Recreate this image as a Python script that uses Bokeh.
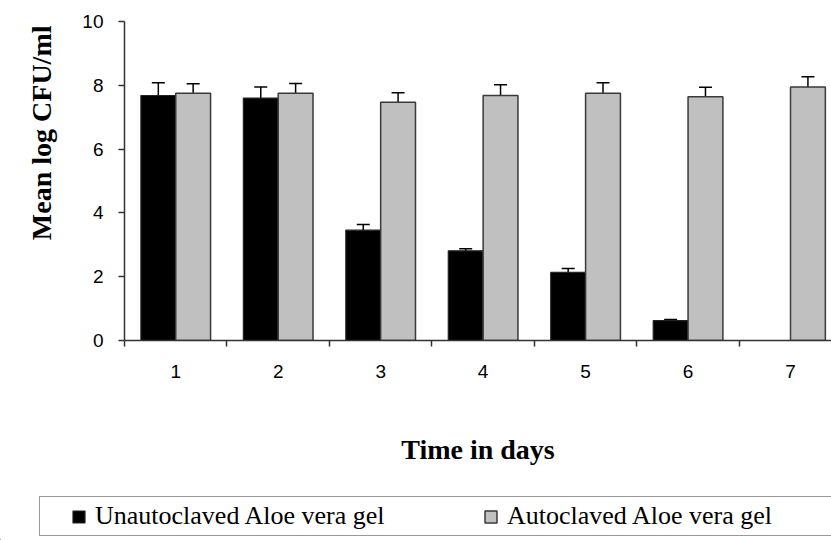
from bokeh.plotting import figure
from bokeh.layouts import column
from bokeh.models import (ColumnDataSource, FixedTicker, Whisker, TeeHead,
                          Legend, LegendItem, Range1d, Title)
from bokeh.transform import dodge
from bokeh.embed import file_html
from bokeh.resources import INLINE

# ---- data ----
days = [1, 2, 3, 4, 5, 6, 7]
day_labels = ["1", "2", "3", "4", "5", "6", "7"]
unautoclaved = [7.68, 7.60, 3.46, 2.81, 2.14, 0.62, 0.0]
unautoclaved_err = [0.40, 0.35, 0.18, 0.07, 0.12, 0.04, 0.0]
autoclaved = [7.75, 7.75, 7.47, 7.68, 7.75, 7.64, 7.95]
autoclaved_err = [0.30, 0.31, 0.30, 0.34, 0.33, 0.30, 0.32]
y_ticks = [0, 2, 4, 6, 8, 10]
series_names = ["Unautoclaved Aloe vera gel", "Autoclaved Aloe vera gel"]
y_title = "Mean log CFU/ml"
x_title = "Time in days"

src = ColumnDataSource(dict(day=days, un=unautoclaved, au=autoclaved))
keep = [i for i, v in enumerate(unautoclaved) if v > 0]
src_un_err = ColumnDataSource(dict(
    x=[days[i] - 0.17 for i in keep],
    lo=[unautoclaved[i] - unautoclaved_err[i] for i in keep],
    hi=[unautoclaved[i] + unautoclaved_err[i] for i in keep],
))
src_au_err = ColumnDataSource(dict(
    x=[d + 0.17 for d in days],
    lo=[v - e for v, e in zip(autoclaved, autoclaved_err)],
    hi=[v + e for v, e in zip(autoclaved, autoclaved_err)],
))

UN_STYLE = dict(fill_color="black", line_color="#222222", line_width=1.2)
AU_STYLE = dict(fill_color="#c0c0c0", line_color="#3a3a3a", line_width=1.5)

p = figure(width=831, height=483, output_backend="svg", toolbar_location=None,
           x_range=Range1d(0.5, 7.40), y_range=Range1d(0, 10),
           min_border_left=124, min_border_right=0, min_border_top=21,
           min_border_bottom=143)
p.frame_align = False
p.outline_line_color = None
p.xgrid.grid_line_color = None
p.ygrid.grid_line_color = None

p.vbar(x=dodge("day", -0.17), top="un", width=0.34, source=src, **UN_STYLE)
p.vbar(x=dodge("day", 0.17), top="au", width=0.34, source=src, **AU_STYLE)

for s in (src_un_err, src_au_err):
    w = Whisker(base="x", lower="lo", upper="hi", source=s, dimension="height",
                line_color="black", line_width=1.5,
                upper_head=TeeHead(size=13, line_color="black", line_width=1.5),
                lower_head=TeeHead(size=13, line_color="black", line_width=1.5))
    p.add_layout(w)

xa = p.xaxis[0]
xa.ticker = FixedTicker(ticks=days, minor_ticks=[d - 0.5 for d in days] + [7.5])
xa.major_label_overrides = {d: l for d, l in zip(days, day_labels)}
xa.major_tick_out = 0
xa.major_tick_in = 0
xa.minor_tick_out = 6
xa.minor_tick_in = 0
xa.minor_tick_line_color = "#333333"
xa.minor_tick_line_width = 1.5
xa.axis_line_color = "#333333"
xa.axis_line_width = 1.5
xa.major_label_text_font = "Liberation Sans"
xa.major_label_text_font_size = "19px"
xa.major_label_text_color = "black"
xa.major_label_standoff = 18
xa.axis_label = x_title
xa.axis_label_text_font = "Liberation Serif"
xa.axis_label_text_font_style = "bold"
xa.axis_label_text_font_size = "28px"
xa.axis_label_text_color = "black"
xa.axis_label_standoff = 53

ya = p.yaxis[0]
ya.ticker = FixedTicker(ticks=y_ticks, minor_ticks=[])
ya.major_tick_out = 6
ya.major_tick_in = 0
ya.major_tick_line_color = "#333333"
ya.major_tick_line_width = 1.5
ya.axis_line_color = "#333333"
ya.axis_line_width = 1.5
ya.major_label_text_font = "Liberation Sans"
ya.major_label_text_font_size = "19px"
ya.major_label_text_color = "black"
ya.major_label_standoff = 15

# vertical title on the left, its end near the top of the axis
title_props = Title.properties()
if "standoff" in title_props:
    t = Title(text=y_title, align="right", offset=4, standoff=46,
              text_font="Liberation Serif", text_font_style="bold",
              text_font_size="28px", text_color="black")
    p.add_layout(t, "left")
else:
    ya.axis_label = y_title
    ya.axis_label_text_font = "Liberation Serif"
    ya.axis_label_text_font_style = "bold"
    ya.axis_label_text_font_size = "28px"
    ya.axis_label_text_color = "black"
    ya.axis_label_standoff = 36

# ---- legend strip below the chart ----
q = figure(width=831, height=57, output_backend="svg", toolbar_location=None,
           x_range=Range1d(100, 101), y_range=Range1d(100, 101),
           x_axis_type=None, y_axis_type=None,
           min_border_left=0, min_border_right=0, min_border_top=0,
           min_border_bottom=0)
q.frame_align = False
q.outline_line_color = None
q.xgrid.grid_line_color = None
q.ygrid.grid_line_color = None
l_un = q.vbar(x="day", top="un", width=0.34, source=src, **UN_STYLE)
l_au = q.vbar(x="day", top="au", width=0.34, source=src, **AU_STYLE)

legend = Legend(items=[LegendItem(label=series_names[0], renderers=[l_un]),
                       LegendItem(label=series_names[1], renderers=[l_au])],
                orientation="horizontal", location=(39, 4),
                title=" ", title_location="left", title_standoff=18,
                title_text_font_size="8px",
                padding=4, spacing=58, label_width=330, label_standoff=9,
                glyph_width=15, glyph_height=15,
                label_text_font="Liberation Serif", label_text_font_size="26px",
                label_text_color="black",
                border_line_color="#333333", border_line_width=1.5,
                background_fill_color="white", background_fill_alpha=1.0)
q.add_layout(legend, "center")

layout = column(p, q, spacing=0)
open("out.html", "w").write(file_html(layout, INLINE))
